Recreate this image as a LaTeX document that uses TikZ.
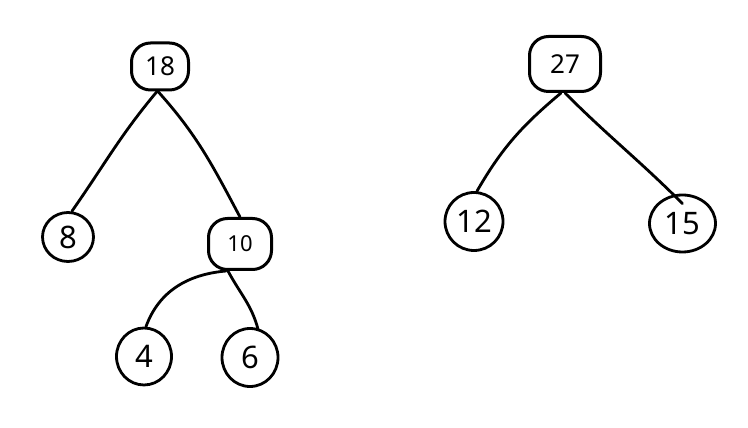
\documentclass[tikz,border=0pt]{standalone}
\usepackage{fontspec}
\setmainfont{Noto Sans}
\usetikzlibrary{shapes.geometric,positioning}

\begin{document}
\begin{tikzpicture}[
    x=1pt, y=1pt,
    leaf/.style={ellipse, draw=black, line width=2.8pt, inner sep=0pt, minimum width=#1, minimum height=54pt, font=\fontsize{31}{34}\selectfont},
    leaf/.default=54pt,
    sumbox/.style={rectangle, rounded corners=19pt, draw=black, line width=3pt, inner sep=0pt, font=\fontsize{26}{30}\selectfont},
    edge/.style={line width=2.8pt, line cap=round, color=black}
]
    % fixed canvas
    \useasboundingbox (0,0) rectangle (748,428);

    % Left tree
    \node[sumbox, minimum width=57pt, minimum height=47pt] (r18) at (160,361.5) {18};
    \node[leaf=51pt, minimum height=49pt] (n8)  at (68,191)    {8};
    \node[sumbox, minimum width=63pt, minimum height=51pt, font=\fontsize{22}{26}\selectfont] (n10) at (240,184) {10};
    \node[leaf=55pt, minimum height=57pt] (n4)  at (144,71.5)  {4};
    \node[leaf=56pt, minimum height=58pt] (n6)  at (250,70.5)  {6};

    % Right tree
    \node[sumbox, minimum width=71pt, minimum height=55pt] (r27) at (565,364) {27};
    \node[leaf=58pt, minimum height=58pt] (n12) at (474,206.5) {12};
    \node[leaf=66pt, minimum height=57pt] (n15) at (682.5,204.5) {15};

    % Edges
    \draw[edge] ([xshift=-3pt]r18.south) to[out=-130, in=55] ([xshift=4pt]n8.north);
    \draw[edge] ([xshift=-2pt]r18.south) to[out=-48, in=118] (n10.north);
    \draw[edge] ([xshift=-14pt]n10.south) to[out=185, in=70] ([xshift=2pt]n4.north);
    \draw[edge] ([xshift=-12pt]n10.south) to[out=-62, in=105] ([xshift=8pt,yshift=-2pt]n6.north);
    \draw[edge] ([xshift=-4pt]r27.south) to[out=-140, in=60] ([xshift=3pt]n12.north);
    \draw[edge] (r27.south) to[out=-45, in=135] ([yshift=-10pt]n15.north);

\end{tikzpicture}
\end{document}
